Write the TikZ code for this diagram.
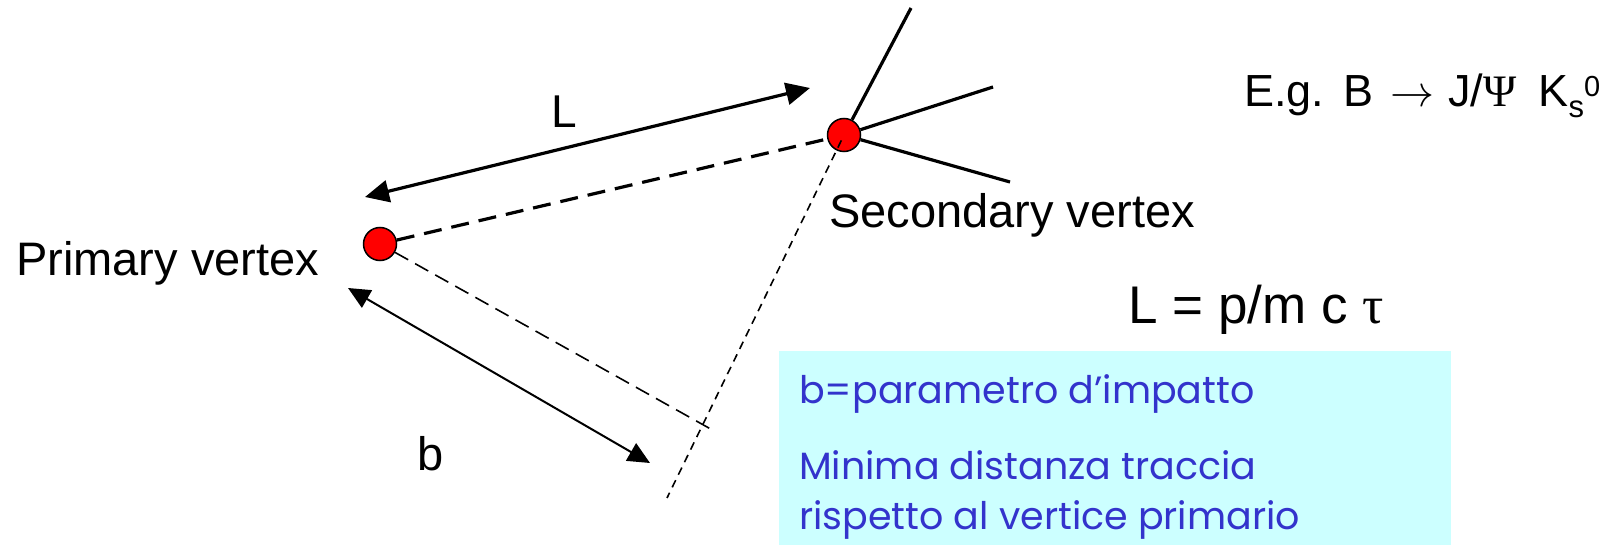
\documentclass[tikz,border=0pt]{standalone}
\usepackage{fontspec}
\setmainfont{Liberation Sans}
\newfontfamily\boxfont{Poppins}
\newfontfamily\symbfont{Liberation Serif}
\usepackage{tikz}
\usetikzlibrary{arrows.meta,positioning}
\definecolor{vtxred}{RGB}{255,0,0}
\definecolor{boxcyan}{RGB}{204,255,255}
\definecolor{boxblue}{RGB}{51,51,204}

\begin{document}
\begin{tikzpicture}[x=1pt,y=-1pt,
    vtx/.style={circle,draw=black,line width=1.5pt,fill=vtxred,minimum size=33pt,inner sep=0pt},
    track/.style={line width=3.2pt},
    lbl/.style={anchor=base west,inner sep=0pt,font=\fontsize{47}{56}\selectfont},
    boxtxt/.style={anchor=base west,inner sep=0pt,text=boxblue,font=\boxfont\fontsize{38}{46}\selectfont}]
  \useasboundingbox (0,0) rectangle (1605,545);
  % vertices
  \node[vtx] (pv) at (380,244) {};
  \node[vtx] (sv) at (844,135) {};
  % tracks out of the secondary vertex
  \coordinate (t1) at (911,8);
  \coordinate (t2) at (993,87);
  \coordinate (t3) at (1010,182);
  \foreach \t in {t1,t2,t3}
    \draw[track] (sv) -- (\t);
  \draw[track,dash pattern=on 18pt off 10pt] (pv) -- (sv);
  % flight length
  \coordinate (La) at (365,197);
  \coordinate (Lb) at (810,88);
  \draw[track,{Triangle[length=24pt,width=22pt]}-{Triangle[length=24pt,width=22pt]}] (La) -- (Lb);
  % impact parameter
  \coordinate (ip) at (716,432);
  \coordinate (se) at (667,498);
  \draw[line width=1.6pt,dash pattern=on 15pt off 8pt] (pv) -- (ip);
  \draw[line width=1.6pt,dash pattern=on 8pt off 6pt,dash phase=8pt] (sv.center) -- (se);
  \coordinate (ba) at (348,288);
  \coordinate (bb) at (650,463);
  \draw[line width=2pt,{Triangle[length=22pt,width=20pt]}-{Triangle[length=22pt,width=20pt]}] (ba) -- (bb);
  % labels
  \node[lbl] (pvlbl) at (16,276) {Primary vertex};
  \node[lbl] (svlbl) at (829,228) {Secondary vertex};
  \node[lbl,font=\fontsize{46}{55}\selectfont] (Llbl) at (551,128) {L};
  \node[lbl] (blbl) at (417,470) {b};
  \node[lbl,font=\fontsize{53}{62}\selectfont] (lform) at (1128,323) {L = p/m c {\symbfont τ}};
  \node[lbl,font=\fontsize{45}{54}\selectfont] (decay) at (1244,107)
    {E.g.\hspace{19pt}B\hspace{17pt}\resizebox{44pt}{!}{$\rightarrow$}\hspace{14pt}J/{\symbfont Ψ}\hspace{22pt}K\raisebox{-11pt}{\fontsize{31}{31}\selectfont s}\raisebox{10pt}{\fontsize{29}{29}\selectfont 0}};
  % note box
  \node[fill=boxcyan,anchor=north west,minimum width=672pt,minimum height=194pt,inner sep=0pt] (note) at (779,351) {};
  \node[boxtxt] (n1) at (799,403) {b=parametro d’impatto};
  \node[boxtxt] (n2) at (799,479) {Minima distanza traccia};
  \node[boxtxt] (n3) at (799,529) {rispetto al vertice primario};
\end{tikzpicture}
\end{document}
